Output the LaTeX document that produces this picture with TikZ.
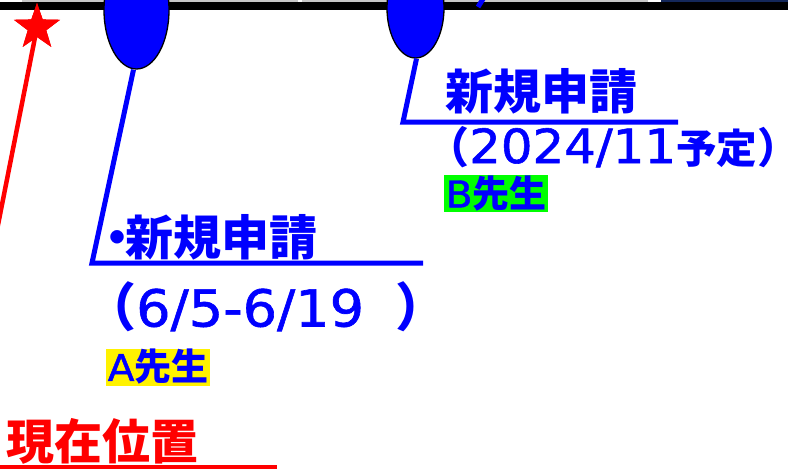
\documentclass[tikz,border=0pt]{standalone}
\usepackage{fontspec}
\newfontfamily\jp{Noto Sans CJK JP}
\newfontfamily\lat{DejaVu Sans}[FakeStretch=1.06, FakeBold=1.2]
\newcommand\JPsz[1]{\jp\bfseries\fontsize{#1}{#1}\selectfont}
\newcommand\LTsz[1]{\lat\mdseries\fontsize{#1}{#1}\selectfont}
\usetikzlibrary{shapes.geometric}
\definecolor{navy}{RGB}{20,40,90}
\definecolor{stripgray}{RGB}{200,200,200}
\tikzset{
  lead/.style={draw=blue, line width=5pt},
  pin/.style={ellipse, draw=black, line width=1.3pt, fill=blue, inner sep=0pt},
  btxt/.style={text=blue, inner sep=0pt, anchor=west},
  tag/.style={text=blue, inner xsep=1.5pt, inner ysep=0pt, anchor=west, minimum height=37pt},
  redstar/.style={star, star points=5, star point ratio=2.5, fill=red, minimum size=48.6pt, inner sep=0pt},
}
\begin{document}
\begin{tikzpicture}[x=1pt,y=-1pt]
\useasboundingbox (0,0) rectangle (788,469);
% top strips
\fill[stripgray] (22,0) rectangle (298,2);
\fill[stripgray] (302,0) rectangle (648,2);
\fill[navy] (661,0) rectangle (788,2.5);
\fill[black] (0,2) rectangle (788,9.5);
% small blue mark
\coordinate (m1) at (483,-1);
\coordinate (m2) at (478,7);
\draw[blue, line width=5pt] (m1) -- (m2);
% red star and line
\coordinate (redend) at (-3,230);
\node[redstar] (star) at (37,27.3) {};
\draw[red, line width=4.5pt] (star.center) -- (redend);
\node[redstar] at (star.center) {};
% pins
\node[pin, minimum width=65pt, minimum height=118pt] (p1) at (136.5,10) {};
\node[pin, minimum width=57pt, minimum height=100pt] (p2) at (415.5,8) {};
\coordinate (c1) at (92,263);
\coordinate (e1) at (423,263);
\coordinate (c2) at (403,122);
\coordinate (e2) at (678,122);
\draw[lead] (p1.south) ++(-3,0) coordinate (s1) (s1) -- (c1) -- (e1);
\draw[lead] (p2.south) ++(1,0) coordinate (s2) (s2) -- (c2) -- (e2);
% texts
\node[btxt, font=\JPsz{48}] (t1) at (445,91) {新規申請};
\node[btxt, anchor=base west] (t2) at (426,163) {\JPsz{43}（\LTsz{47}2024/11\JPsz{40.5}予定\JPsz{42}）};
\node[tag, fill=green] (t3) at (444,193.5) {\LTsz{37}B\JPsz{37}先生};
\node[btxt, font=\JPsz{48}] (t4) at (93,237) {・\kern-16pt新規申請};
\node[btxt, anchor=base west] (t5) at (84,326.5) {\JPsz{52}（\LTsz{51}6/5-6/19\ \kern14pt\JPsz{52}）};
\node[tag, fill=yellow] (t6) at (106,367) {\LTsz{37}A\JPsz{37}先生};
\node[btxt, text=red, font=\JPsz{48}] (t7) at (6,441.5) {現在位置};
\coordinate (u1) at (0,466.5);
\coordinate (u2) at (277,466.5);
\draw[red, line width=4pt] (u1) -- (u2);
\end{tikzpicture}
\end{document}
